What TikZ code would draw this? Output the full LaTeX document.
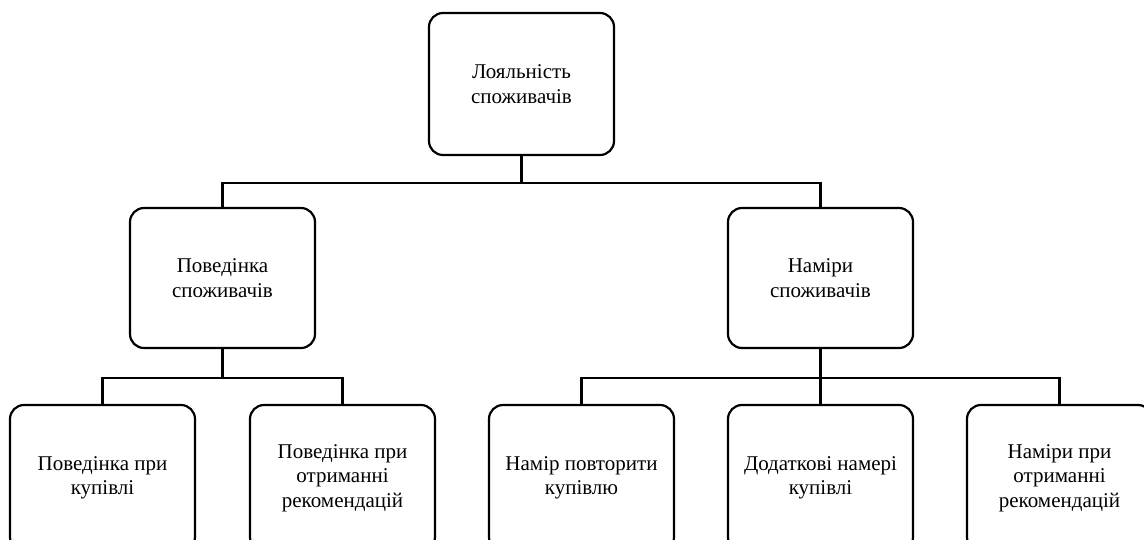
\documentclass[tikz,border=0pt]{standalone}
\usepackage{fontspec}
\setmainfont{Liberation Serif}
\usetikzlibrary{calc}
\begin{document}
\begin{tikzpicture}[x=1pt,y=-1pt,
  box/.style={draw, line width=2.2pt, rounded corners=14pt, minimum width=185pt,
    align=center, font=\fontsize{21}{24.5}\selectfont, inner sep=0pt},
  topbox/.style={box, minimum height=142pt},
  midbox/.style={box, minimum height=140pt},
  leafbox/.style={box, minimum height=146pt},
  wire/.style={line width=2.2pt}]
\useasboundingbox (0,0) rectangle (1144,539);
\clip (0,0) rectangle (1144,539);
% root
\node[topbox] (root) at (521.5,84) {Лояльність\\споживачів};
% second level
\node[midbox] (beh) at (222.5,278) {Поведінка\\споживачів};
\node[midbox] (int) at (820.5,278) {Наміри\\споживачів};
% leaves
\node[leafbox] (b1) at (102.5,478) {Поведінка при\\купівлі};
\node[leafbox] (b2) at (342.5,478) {Поведінка при\\отриманні\\рекомендацій};
\node[leafbox] (i1) at (581.5,478) {Намір повторити\\купівлю};
\node[leafbox] (i2) at (820.5,478) {Додаткові намері\\купівлі};
\node[leafbox] (i3) at (1059.5,478) {Наміри при\\отриманні\\рекомендацій};
% connectors
\coordinate (rootbus) at ($(root.south)+(0,27)$);
\draw[wire] (root.south) -- (rootbus) -| (beh.north);
\draw[wire] (rootbus) -| (int.north);
\coordinate (behbus) at ($(beh.south)+(0,29)$);
\draw[wire] (beh.south) -- (behbus) -| (b1.north);
\draw[wire] (behbus) -| (b2.north);
\coordinate (intbus) at ($(int.south)+(0,29)$);
\draw[wire] (int.south) -- (intbus) -| (i1.north);
\draw[wire] (intbus) -- (i2.north);
\draw[wire] (intbus) -| (i3.north);
\end{tikzpicture}
\end{document}
